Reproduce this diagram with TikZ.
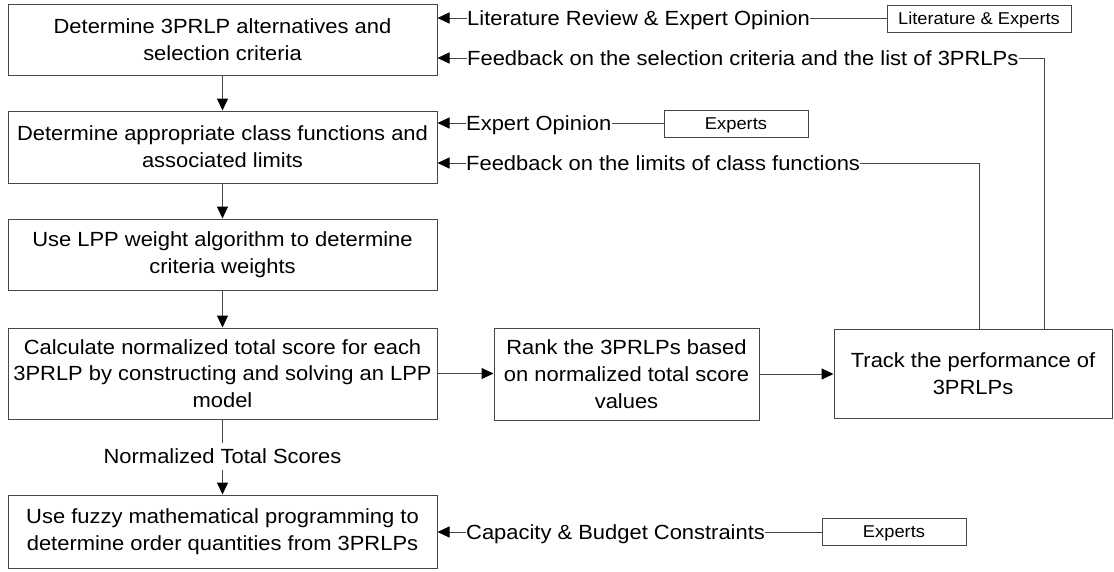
\documentclass[tikz,border=0pt]{standalone}
\usepackage{fontspec}
\setmainfont{Liberation Sans}[FakeStretch=1.07]
\usetikzlibrary{arrows.meta}
\definecolor{ln}{RGB}{70,70,70}
\newcommand\mainsz{\fontsize{20.5}{26.7}\selectfont}
\newcommand\smallsz{\fontsize{17.1}{20}\selectfont}
\tikzset{
  box/.style={draw=ln, line width=1pt, align=center, inner sep=0pt, font=\mainsz},
  sbox/.style={draw=ln, line width=1pt, inner sep=0pt, font=\smallsz, minimum height=27pt, text height=12.3pt, text depth=0pt},
  lab/.style={inner sep=0pt, text height=14.7pt, text depth=0pt, anchor=west, font=\mainsz},
  lnk/.style={draw=ln, line width=1pt},
  arr/.style={-{Triangle[length=12pt,width=11pt,color=black]}}
}
\begin{document}
\begin{tikzpicture}[x=1pt,y=-1pt]
\useasboundingbox (0,0) rectangle (1114,571);
% main column
\node[box, minimum width=429pt, minimum height=71pt] (b1) at (222.5,39.5) {Determine 3PRLP alternatives and\\selection criteria};
\node[box, minimum width=429pt, minimum height=72pt] (b2) at (222.5,147) {Determine appropriate class functions and\\associated limits};
\node[box, minimum width=429pt, minimum height=71pt] (b3) at (222.5,254.5) {Use LPP weight algorithm to determine\\criteria weights};
\node[box, minimum width=429pt, minimum height=91pt] (b4) at (222.5,373.5) {Calculate normalized total score for each\\3PRLP by constructing and solving an LPP\\model};
\node[box, minimum width=429pt, minimum height=73pt] (b5) at (222.5,531.5) {Use fuzzy mathematical programming to\\determine order quantities from 3PRLPs};
\node[box, minimum width=265pt, minimum height=92pt] (rank) at (626.5,374) {Rank the 3PRLPs based\\on normalized total score\\values};
\node[box, minimum width=278pt, minimum height=89pt] (track) at (973,373.5) {Track the performance of\\3PRLPs};
% labels
\node[lab] (l1) at (467,18) {Literature Review \& Expert Opinion};
\node[lab] (l2) at (467,58) {Feedback on the selection criteria and the list of 3PRLPs};
\node[lab] (l3) at (466,123) {Expert Opinion};
\node[lab] (l4) at (466,163) {Feedback on the limits of class functions};
\node[lab] (l5) at (466,532) {Capacity \& Budget Constraints};
\node[font=\mainsz, inner xsep=0pt, inner ysep=6pt, text height=14.7pt, text depth=0pt] (nts) at (222.5,456.5) {Normalized Total Scores};
% source boxes
\node[sbox, minimum width=184pt] (s1) at (979,18.5) {Literature \& Experts};
\node[sbox, minimum width=144pt] (s2) at (736,123.5) {Experts};
\node[sbox, minimum width=144pt] (s3) at (894,531.5) {Experts};
% feedback corners
\coordinate (c1) at (1044,58);
\coordinate (c2) at (979,163);
% connectors
\draw[lnk,arr] (b1.south) -- (b2.north);
\draw[lnk,arr] (b2.south) -- (b3.north);
\draw[lnk,arr] (b3.south) -- (b4.north);
\draw[lnk] (b4.south) -- (nts.north);
\draw[lnk,arr] (nts.south) -- (b5.north);
\draw[lnk,arr] (b4.east) -- (b4.east -| rank.west);
\draw[lnk,arr] (rank.east) -- (rank.east -| track.west);
\draw[lnk,arr] (l1.west) -- (l1.west -| b1.east);
\draw[lnk] (l1.east) -- (l1.east -| s1.west);
\draw[lnk,arr] (l2.west) -- (l2.west -| b1.east);
\draw[lnk] (l2.east) -- (c1) -- (c1 |- track.north);
\draw[lnk,arr] (l3.west) -- (l3.west -| b2.east);
\draw[lnk] (l3.east) -- (l3.east -| s2.west);
\draw[lnk,arr] (l4.west) -- (l4.west -| b2.east);
\draw[lnk] (l4.east) -- (c2) -- (c2 |- track.north);
\draw[lnk,arr] (l5.west) -- (l5.west -| b5.east);
\draw[lnk] (l5.east) -- (l5.east -| s3.west);
\end{tikzpicture}
\end{document}
